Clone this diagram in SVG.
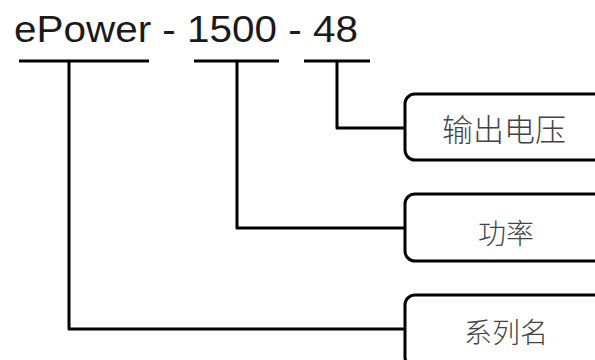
<svg xmlns="http://www.w3.org/2000/svg" width="595" height="360" viewBox="0 0 595 360">
<style>
.ln{stroke:#000;stroke-width:3;fill:none;stroke-linecap:butt;stroke-linejoin:round}
.box{stroke:#000;stroke-width:3;fill:#fff}
.lbl{font-family:"Noto Sans CJK SC","Noto Sans",sans-serif;font-weight:300;fill:#444;text-anchor:middle}
.code{font-family:"Liberation Sans",Arial,sans-serif;font-size:36px;fill:#1a1a1a}
</style>
<rect width="595" height="360" fill="#fff"/>
<g id="title">
<text class="code" x="14" y="42" textLength="344" lengthAdjust="spacingAndGlyphs">ePower - 1500 - 48</text>
</g>
<g id="connectors">
<path class="ln" d="M19 61H149"/>
<path class="ln" d="M194 61H279"/>
<path class="ln" d="M304 61H370"/>
<path class="ln" d="M337 61V128H405"/>
<path class="ln" d="M237 61V228H405"/>
<path class="ln" d="M69 61V329H405"/>
</g>
<g id="node-voltage">
<rect class="box" x="405" y="94" width="210" height="66" rx="10"/>
<text class="lbl" x="504" y="141" font-size="31">输出电压</text>
</g>
<g id="node-power">
<rect class="box" x="405" y="194" width="210" height="67" rx="10"/>
<text class="lbl" x="506" y="244" font-size="28">功率</text>
</g>
<g id="node-series">
<rect class="box" x="405" y="295" width="210" height="72" rx="10"/>
<text class="lbl" x="506" y="343" font-size="28">系列名</text>
</g>
</svg>
